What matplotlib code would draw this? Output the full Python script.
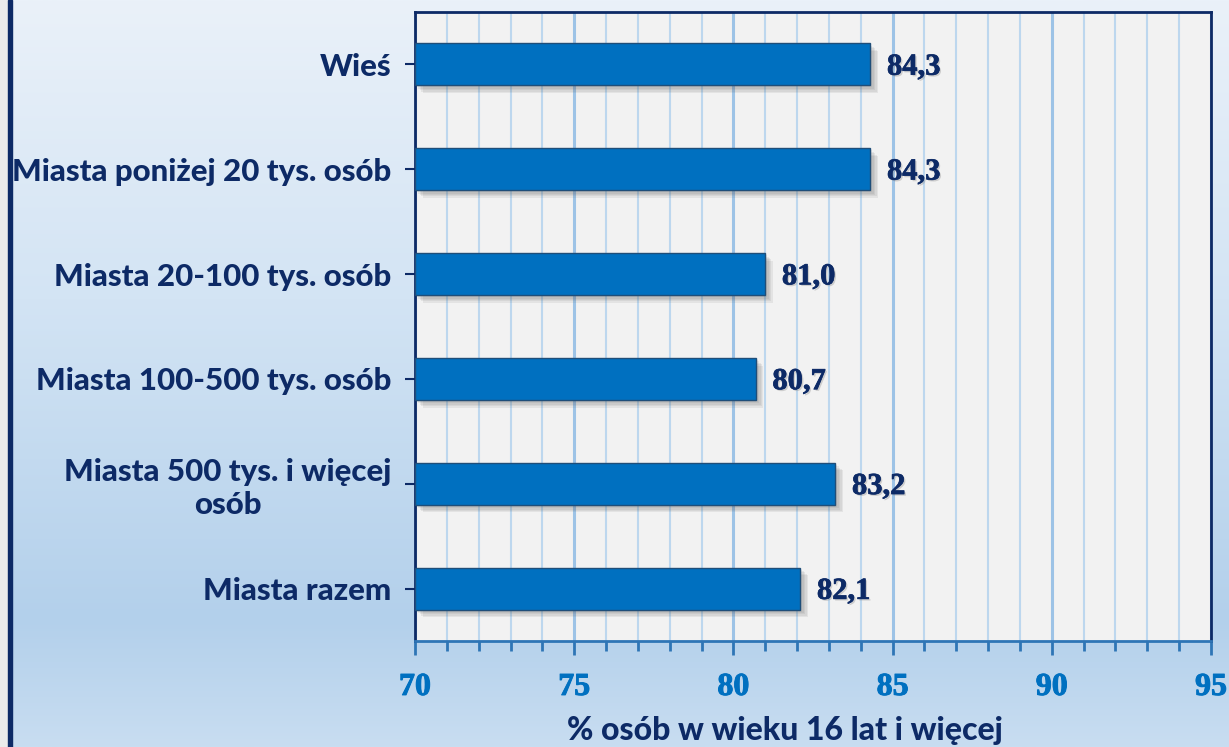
import numpy as np
import matplotlib
matplotlib.use("Agg")
import matplotlib.pyplot as plt
import matplotlib.patheffects as pe
from matplotlib.colors import LinearSegmentedColormap

# data
categories = ["Wieś", "Miasta poniżej 20 tys. osób", "Miasta 20-100 tys. osób",
              "Miasta 100-500 tys. osób", "Miasta 500 tys. i więcej\nosób", "Miasta razem"]
values = [84.3, 84.3, 81.0, 80.7, 83.2, 82.1]
x_ticks = [70, 75, 80, 85, 90, 95]
x_label = "% osób w wieku 16 lat i więcej"

navy = "#0d2a66"
blue = "#0070c0"

fig = plt.figure(figsize=(12.29, 7.47), dpi=100)

# background gradient
bg = fig.add_axes([0, 0, 1, 1], zorder=-10)
grad = LinearSegmentedColormap.from_list(
    "bg", [(0, "#eaf1f9"), (0.4, "#d3e4f4"), (0.83, "#b3d0eb"), (1, "#c8ddf1")])
bg.imshow(np.linspace(0, 1, 256).reshape(-1, 1), aspect="auto", cmap=grad,
          extent=[0, 1, 0, 1], origin="upper")
bg.axvspan(0, 8 / 1229, color="#ebebeb")
bg.axvspan(8 / 1229, 12 / 1229, color=navy)
bg.set_xlim(0, 1)
bg.set_ylim(0, 1)
bg.axis("off")

ax = fig.add_axes([415 / 1229, 1 - 641 / 747, (1211 - 415) / 1229, (641 - 12) / 747])
ax.set_facecolor("#f2f2f2")

pos = np.arange(len(categories))
bars = ax.barh(pos, [v - 70 for v in values], left=70, height=0.4, color=blue,
               edgecolor="#1f4e79", linewidth=1, zorder=3)
# soft shadow: a few faint offset copies
shadow = [pe.SimplePatchShadow(offset=(d, -d), shadow_rgbFace="#555555", alpha=0.09)
          for d in (1.5, 2.5, 3.5, 4.5, 5.5)]
for b in bars:
    b.set_path_effects(shadow + [pe.Normal()])

for p, v in zip(pos, values):
    t = ax.annotate(f"{v:.1f}".replace(".", ","), (v, p), xytext=(12, -2),
                    textcoords="offset points", ha="left", va="center",
                    fontsize=22, fontweight="bold", family="Liberation Serif",
                    color=navy, zorder=5)
    t.set_path_effects([pe.SimplePatchShadow(offset=(1.2, -1.2), shadow_rgbFace="#888888", alpha=0.35),
                        pe.withStroke(linewidth=0.5, foreground=navy)])

ax.set_xlim(70, 95)
ax.set_ylim(len(categories) - 0.5, -0.5)
ax.set_xticks(x_ticks)
ax.set_xticks(np.arange(70, 96, 1), minor=True)
ax.grid(True, which="major", axis="x", color="#9dc3e6", linewidth=2.2, zorder=0)
ax.grid(True, which="minor", axis="x", color="#bdd7ee", linewidth=1.5, zorder=0)
ax.set_axisbelow(True)

ax.set_xticklabels([str(t) for t in x_ticks], fontsize=23, fontweight="bold",
                   family="Liberation Serif", color=blue)
for lab in ax.get_xticklabels():
    lab.set_path_effects([pe.withStroke(linewidth=0.7, foreground=blue)])
ax.tick_params(axis="x", which="major", length=10, width=2, color="#2e75b6", pad=13)
ax.tick_params(axis="x", which="minor", length=7, width=2, color="#2e75b6")

ax.set_yticks(pos)
ax.set_yticklabels(categories, fontsize=22.5, fontweight="black", family="Lato",
                   color=navy, multialignment="center", linespacing=1.2)
ax.tick_params(axis="y", length=7, width=1.5, color=navy, pad=10)

for s in ["left", "top", "right"]:
    ax.spines[s].set_color(navy)
    ax.spines[s].set_linewidth(2)
ax.spines["bottom"].set_color("#2e75b6")
ax.spines["bottom"].set_linewidth(2)

ax.set_xlabel(x_label, fontsize=23, fontweight="black", family="Lato", color=navy)
ax.xaxis.set_label_coords((785 - 415) / 796, -(716 - 641) / 629)

fig.savefig("out.png", dpi=100)
